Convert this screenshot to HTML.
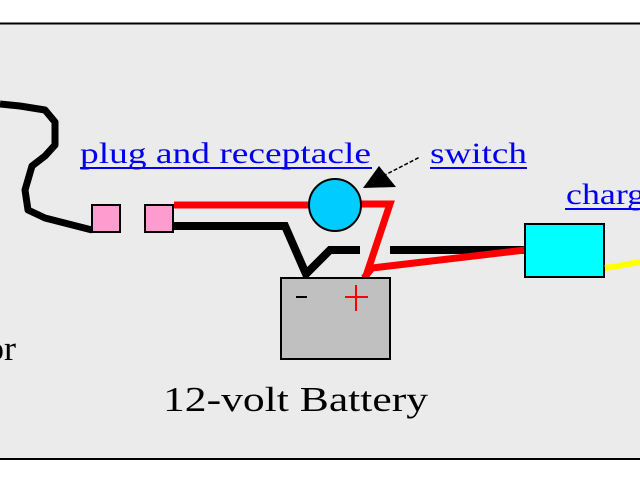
<!DOCTYPE html>
<html><head><style>
html,body{margin:0;padding:0;background:#fff;}
svg{display:block}
</style></head><body>
<svg width="640" height="480" viewBox="0 0 640 480" xmlns="http://www.w3.org/2000/svg">
<rect x="0" y="24" width="640" height="434" fill="#ebebeb"/>
<line x1="0" y1="23.5" x2="640" y2="23.5" stroke="#000" stroke-width="2"/>
<line x1="0" y1="459" x2="640" y2="459" stroke="#000" stroke-width="2"/>
<polyline points="0,104 20,106 45,110 55,122 55,145 45,156 32,166 25,190 28,210 45,218 92,230" fill="none" stroke="#000" stroke-width="7" stroke-linejoin="round"/>
<rect x="92" y="205" width="28" height="27" fill="#ff9ccf" stroke="#000" stroke-width="2"/>
<rect x="145" y="205" width="28" height="27" fill="#ff9ccf" stroke="#000" stroke-width="2"/>
<polyline points="174,226 285,226 306,274 330,250 360,250" fill="none" stroke="#000" stroke-width="8" stroke-linejoin="miter"/>
<line x1="390" y1="250" x2="525" y2="250" stroke="#000" stroke-width="8"/>
<line x1="174" y1="205" x2="310" y2="205" stroke="#f00" stroke-width="7"/>
<polyline points="360,204 390,204 364,282" fill="none" stroke="#f00" stroke-width="7"/>
<polyline points="364,278 372,268 525,250" fill="none" stroke="#f00" stroke-width="7"/>
<circle cx="335" cy="205" r="26" fill="#00ccff" stroke="#000" stroke-width="2"/>
<polygon points="363,188 396,187 379,166" fill="#000"/>
<line x1="383" y1="176" x2="420" y2="157" stroke="#000" stroke-width="1.5" stroke-dasharray="4,2"/>
<rect x="281" y="278" width="109" height="81" fill="#c0c0c0" stroke="#000" stroke-width="2"/>
<line x1="296" y1="297" x2="307" y2="297" stroke="#000" stroke-width="2"/>
<line x1="345" y1="297" x2="368" y2="297" stroke="#f00" stroke-width="2"/>
<line x1="356" y1="285" x2="356" y2="311" stroke="#f00" stroke-width="2"/>
<rect x="525" y="224" width="79" height="53" fill="#00ffff" stroke="#000" stroke-width="2"/>
<polyline points="605,268 618,266 640,262" fill="none" stroke="#ffff00" stroke-width="6"/>
<g font-family="Liberation Serif, serif" fill="#0000ee">
<text x="80" y="163" font-size="30" textLength="291" lengthAdjust="spacingAndGlyphs">plug and receptacle</text>
<line x1="80" y1="168" x2="372" y2="168" stroke="#0000ee" stroke-width="2"/>
<text x="430" y="163" font-size="30" textLength="97" lengthAdjust="spacingAndGlyphs">switch</text>
<line x1="430" y1="168" x2="527" y2="168" stroke="#0000ee" stroke-width="2"/>
<text x="566" y="204" font-size="30" textLength="107" lengthAdjust="spacingAndGlyphs">charger</text>
<line x1="565" y1="209" x2="640" y2="209" stroke="#0000ee" stroke-width="2"/>
</g>
<text x="163" y="411" font-family="Liberation Serif, serif" font-size="35" fill="#000" textLength="265" lengthAdjust="spacingAndGlyphs">12-volt Battery</text>
<text x="-14" y="360" font-family="Liberation Serif, serif" font-size="35" fill="#000" textLength="30" lengthAdjust="spacingAndGlyphs">or</text>
</svg>
</body></html>
